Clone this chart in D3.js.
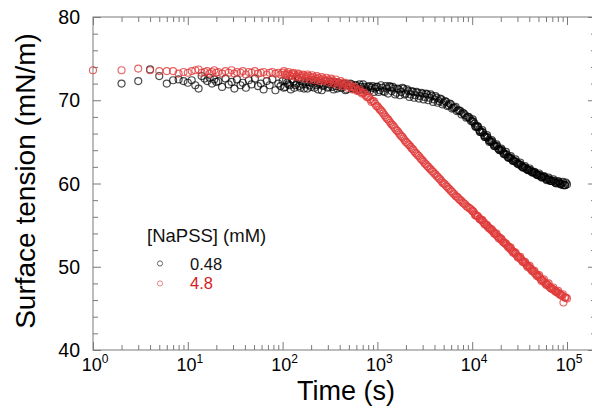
<!DOCTYPE html>
<html><head><meta charset="utf-8">
<script src="https://cdn.jsdelivr.net/npm/d3@7"></script>
<style>body{margin:0;background:#fff} svg{display:block} text{font-family:"Liberation Sans",Arial,Helvetica,sans-serif}</style>
</head><body><svg id="c" width="592" height="408"></svg>
<script>
// sampling set A
const timesA=[1,2,3,4,5,6,7,8,9,10,11,12,13,14,15,16,17,18,19,20,
21,23,25,27,29,31,33,36,38,41,44,47,51,55,59,63,68,73,78,84,90,95,
100,106,112,119,126,133,141,150,158,168,178,188,200,211,224,237,251,266,282,299,316,335,355,376,398,422,447,473,501,531,562,596,631,668,708,750,794,841,891,944,
1000,1059,1122,1189,1259,1334,1413,1496,1585,1679,1778,1884,1995,2113,2239,2371,2512,2661,2818,2985,3162,3350,3548,3758,3981,4217,4467,4732,5012,5309,5623,5957,6310,6683,7079,7499,7943,8414,8913,9441,
10000,10593,11220,11885,12589,13335,14125,14962,15849,16788,17783,18836,19953,21135,22387,23714,25119,26607,28184,29854,31623,33497,35481,37584,39811,42170,44668,47315,50119,53088,56234,59566,63096,66834,70795,74989,79433,84140,89125,94406,100000];
// [NaPSS] = 0.48 mM, set A
const lowA=[null,72.0,72.3,73.7,72.9,72.0,72.4,72.5,72.3,72.1,72.4,71.8,71.4,72.9,72.6,72.3,72.7,72.0,72.5,72.2,
72.3,71.6,72.6,71.9,72.2,71.4,72.5,71.8,72.1,71.5,72.4,71.9,72.6,71.7,72.0,71.3,72.3,71.8,72.5,71.2,72.0,71.7,
72.3,71.6,72.1,71.8,72.5,71.5,72.0,71.7,72.3,71.4,71.9,72.2,71.6,72.4,71.8,71.3,72.1,71.7,72.3,71.5,71.9,71.6,72.2,71.4,71.8,71.5,72.0,71.3,71.7,71.9,71.4,71.8,71.2,71.6,71.9,71.3,71.6,71.2,71.7,71.4,
71.6,71.2,71.5,71.0,71.4,71.7,71.1,71.4,70.9,71.3,71.0,71.4,70.8,71.1,70.7,71.0,70.6,70.9,70.5,70.8,70.4,70.7,70.3,70.5,70.1,70.3,69.9,70.1,69.7,69.8,69.4,69.5,69.1,69.2,68.8,68.7,68.5,68.2,68.0,67.8,
67.5,67.2,66.8,66.4,66.2,65.8,65.6,65.2,65.0,64.7,64.5,64.2,64.0,63.8,63.5,63.2,63.1,62.8,62.7,62.4,62.3,62.0,61.9,61.7,61.6,61.4,61.3,61.1,61.0,60.8,60.8,60.6,60.5,60.3,60.3,60.1,60.1,60.0,60.0,59.8,59.9];
// [NaPSS] = 4.8 mM, set A
const highA=[73.6,73.6,73.8,73.6,73.5,73.5,73.5,73.2,73.4,73.3,73.5,73.6,73.7,73.3,73.4,73.5,73.2,73.4,73.6,73.3,
73.4,73.2,73.5,73.3,73.6,73.2,73.4,73.3,73.5,73.1,73.4,73.3,73.5,73.2,73.3,73.4,73.1,73.3,73.4,73.2,73.3,73.1,
73.3,73.1,73.2,73.0,73.2,73.1,72.9,73.1,72.9,73.0,72.8,72.9,72.7,72.8,72.6,72.7,72.5,72.6,72.4,72.5,72.3,72.4,72.2,72.2,72.0,72.1,71.9,71.9,71.7,71.6,71.5,71.3,71.2,71.0,70.9,70.6,70.4,70.1,69.9,69.6,
69.3,68.9,68.6,68.2,67.8,67.5,67.1,66.8,66.4,66.1,65.7,65.4,65.0,64.7,64.4,64.1,63.7,63.4,63.1,62.8,62.4,62.1,61.8,61.5,61.2,60.9,60.6,60.3,60.0,59.7,59.4,59.1,58.8,58.5,58.3,58.0,57.7,57.5,57.2,57.0,
56.7,56.4,56.1,55.8,55.6,55.3,55.0,54.7,54.4,54.2,53.9,53.6,53.3,53.0,52.8,52.5,52.2,51.9,51.6,51.3,51.1,50.8,50.5,50.2,49.9,49.7,49.4,49.1,48.8,48.5,48.3,48.0,47.8,47.5,47.3,47.1,46.9,46.7,46.5,46.3,46.2];

// sampling set B (between set A points above 100 s)
const timesB=[103,109,115,122,130,137,145,154,163,173,183,194,205,217,230,244,259,274,290,307,325,345,365,387,410,434,460,487,516,546,579,613,649,688,729,772,818,866,917,972,
1029,1090,1155,1223,1296,1373,1454,1540,1631,1728,1830,1939,2054,2175,2304,2441,2585,2738,2901,3073,3255,3447,3652,3868,4097,4340,4597,4870,5158,5464,5788,6131,6494,6879,7286,7718,8175,8660,9173,9716,
10292,10902,11548,12232,12957,13725,14538,15399,16312,17278,18302,19387,20535,21752,23041,24406,25852,27384,29007,30726,32546,34475,36517,38681,40973,43401,45973,48697,51582,54639,57876,61306,64938,68786,72862,77179,81752,86596,91727,97163];
const lowB=[71.5,72.4,71.9,71.3,72.2,71.8,72.6,71.5,71.9,72.3,71.4,71.8,72.1,71.5,72.3,71.9,71.2,71.8,72.0,71.6,72.2,71.3,71.7,72.1,71.5,71.9,71.2,71.8,72.0,71.4,71.8,71.5,71.9,71.3,71.6,71.1,71.7,71.5,71.0,71.6,
71.0,71.8,71.1,71.7,70.8,71.6,71.6,70.7,71.4,70.6,71.5,70.7,71.3,70.4,71.1,70.3,71.0,70.2,70.9,70.1,70.8,70.0,70.7,69.8,70.5,69.7,70.2,69.5,69.9,69.3,69.6,69.0,69.1,68.7,68.8,68.3,68.4,67.9,68.0,67.5,
67.4,66.8,66.8,66.2,66.1,65.6,65.5,65.1,65.0,64.5,64.5,64.0,64.0,63.5,63.5,63.1,63.0,62.7,62.6,62.3,62.2,61.9,61.9,61.6,61.6,61.3,61.3,61.0,61.0,60.7,60.8,60.4,60.5,60.3,60.3,60.0,60.2,59.9,59.8,60.1];
const highB=[73.5,73.0,73.4,72.9,73.3,72.8,73.2,72.7,73.1,72.6,73.1,72.5,73.0,72.4,72.9,72.3,72.8,72.3,72.7,72.1,72.6,72.0,72.5,71.8,72.3,71.7,72.1,71.5,71.9,71.3,71.6,71.1,71.3,70.8,70.9,70.4,70.4,69.8,69.9,69.3,
69.1,68.8,68.4,68.0,67.7,67.3,67.0,66.6,66.3,65.9,65.6,65.2,64.9,64.6,64.2,63.9,63.6,63.3,62.9,62.6,62.3,62.0,61.7,61.4,61.1,60.8,60.5,60.1,59.9,59.6,59.3,59.0,58.7,58.4,58.1,57.9,57.6,57.3,57.1,56.9,
56.6,56.2,56.0,55.7,55.4,55.1,54.8,54.6,54.3,54.0,53.7,53.5,53.2,52.9,52.6,52.4,52.0,51.8,51.5,51.2,50.9,50.6,50.4,50.1,49.8,49.5,49.2,49.0,48.7,48.4,48.1,47.9,47.6,47.4,47.2,47.0,46.8,46.6,45.7,46.3];

// sampling set C (extra late-time readings)
const timesC=[10145,10747,11383,12058,12772,13529,14330,15180,16079,17032,18041,19110,20242,21442,22712,24058,25484,26994,28593,30288,32082,33983,35996,38129,40389,42782,45317,48002,50846,53859,57050,60430,64011,67804,71822,76077,80585,85363,90418,95779];
const lowC=[67.7,66.9,66.9,66.2,66.4,65.6,65.8,65.0,65.2,64.5,64.7,64.1,64.2,63.6,63.8,63.1,63.3,62.7,62.9,62.4,62.5,62.0,62.1,61.7,61.8,61.4,61.4,61.1,61.2,60.8,60.9,60.5,60.7,60.3,60.5,60.1,60.3,59.9,60.2,59.8];
const highC=[56.7,56.2,56.1,55.7,55.6,55.1,55.0,54.6,54.5,54.0,54.0,53.4,53.4,52.9,52.8,52.3,52.3,51.7,51.7,51.1,51.2,50.6,50.6,50.0,50.1,49.5,49.5,48.9,49.0,48.3,48.5,47.8,48.0,47.4,47.5,47.0,47.1,46.6,46.7,46.3];

const xMajor=[1,10,100,1000,10000,100000];
const xExponents=["0","1","2","3","4","5"];
const yMajor=[40,50,60,70,80];
const yMinor=[42,44,46,48,52,54,56,58,62,64,66,68,72,74,76,78];
const seriesNames=["0.48","4.8"];
const legendTitle="[NaPSS] (mM)";
const xTitle="Time (s)";
const yTitle="Surface tension (mN/m)";

const svg=d3.select("#c");
const L=93,R=596,T=17,B=350;
const x=d3.scaleLog().domain([1,1e5]).range([93,567]);
const y=d3.scaleLinear().domain([40,80]).range([B,T]);
const xMinor=[];
for(let d=0;d<5;d++){for(let m=2;m<=9;m++){xMinor.push(m*Math.pow(10,d));}}
const axisColor="#7a7a7a";
function styleAxis(g){g.select(".domain").remove();g.selectAll("line").attr("stroke",axisColor).attr("stroke-width",1);g.selectAll("text").remove();}

svg.append("rect").attr("x",L).attr("y",T).attr("width",R-L).attr("height",B-T)
  .attr("fill","none").attr("stroke",axisColor).attr("stroke-width",1);

svg.append("g").attr("transform",`translate(0,${B})`).call(d3.axisBottom(x).tickValues(xMajor).tickSize(-8).tickSizeOuter(0)).call(styleAxis);
svg.append("g").attr("transform",`translate(0,${B})`).call(d3.axisBottom(x).tickValues(xMinor).tickSize(-5).tickSizeOuter(0)).call(styleAxis);
svg.append("g").attr("transform",`translate(0,${T})`).call(d3.axisTop(x).tickValues(xMajor).tickSize(-8).tickSizeOuter(0)).call(styleAxis);
svg.append("g").attr("transform",`translate(0,${T})`).call(d3.axisTop(x).tickValues(xMinor).tickSize(-5).tickSizeOuter(0)).call(styleAxis);
svg.append("g").attr("transform",`translate(${L},0)`).call(d3.axisLeft(y).tickValues(yMajor).tickSize(-8).tickSizeOuter(0)).call(styleAxis);
svg.append("g").attr("transform",`translate(${L},0)`).call(d3.axisLeft(y).tickValues(yMinor).tickSize(-5).tickSizeOuter(0)).call(styleAxis);
svg.append("g").attr("transform",`translate(${R},0)`).call(d3.axisRight(y).tickValues(yMajor).tickSize(-8).tickSizeOuter(0)).call(styleAxis);
svg.append("g").attr("transform",`translate(${R},0)`).call(d3.axisRight(y).tickValues(yMinor).tickSize(-5).tickSizeOuter(0)).call(styleAxis);

const xl=svg.append("g");
xMajor.forEach((v,i)=>{
  const t=xl.append("text").attr("x",x(v)+2).attr("y",371).attr("text-anchor","middle").attr("font-size",18).attr("fill","#000");
  t.append("tspan").text("10");
  t.append("tspan").attr("dy",-8).attr("font-size",12).text(xExponents[i]);
});
svg.append("g").selectAll("text").data(yMajor).join("text")
  .attr("x",80).attr("y",d=>y(d)).attr("dy","0.36em").attr("text-anchor","end")
  .attr("font-size",19.5).attr("fill","#000").text(d=>d);

svg.append("text").attr("x",346).attr("y",400).attr("text-anchor","middle").attr("font-size",27).attr("fill","#000").text(xTitle);
svg.append("text").attr("transform","translate(35,181) rotate(-90)").attr("text-anchor","middle").attr("font-size",28).attr("fill","#000").text(yTitle);

const series=[
  {name:seriesNames[0],sets:[[timesA,lowA],[timesB,lowB],[timesC,lowC]],stroke:"#000",op:0.7,sw:1.2},
  {name:seriesNames[1],sets:[[timesA,highA],[timesB,highB],[timesC,highC]],stroke:"#e03a3a",op:0.8,sw:1.1}
];
series.forEach(s=>{
  const pts=[];
  s.sets.forEach(([ts,vs])=>ts.forEach((t,i)=>{if(vs[i]!=null)pts.push({t,v:vs[i]});}));
  svg.append("g").selectAll("circle").data(pts).join("circle")
    .attr("cx",d=>x(d.t)).attr("cy",d=>y(d.v)).attr("r",3.5)
    .attr("fill","none").attr("stroke",s.stroke).attr("stroke-opacity",s.op).attr("stroke-width",s.sw);
});

svg.append("text").attr("x",147).attr("y",241.5).attr("font-size",18.5).attr("fill","#111").text(legendTitle);
const legColors=["#555","#e07878"];
const legText=["#111","#d42020"];
seriesNames.forEach((n,i)=>{
  svg.append("circle").attr("cx",160).attr("cy",263.5+i*20).attr("r",2.6).attr("fill","none").attr("stroke",legColors[i]).attr("stroke-width",0.9);
  svg.append("text").attr("x",190).attr("y",269.5+i*19.5).attr("font-size",16.5).attr("fill",legText[i]).text(n);
});
</script></body></html>
